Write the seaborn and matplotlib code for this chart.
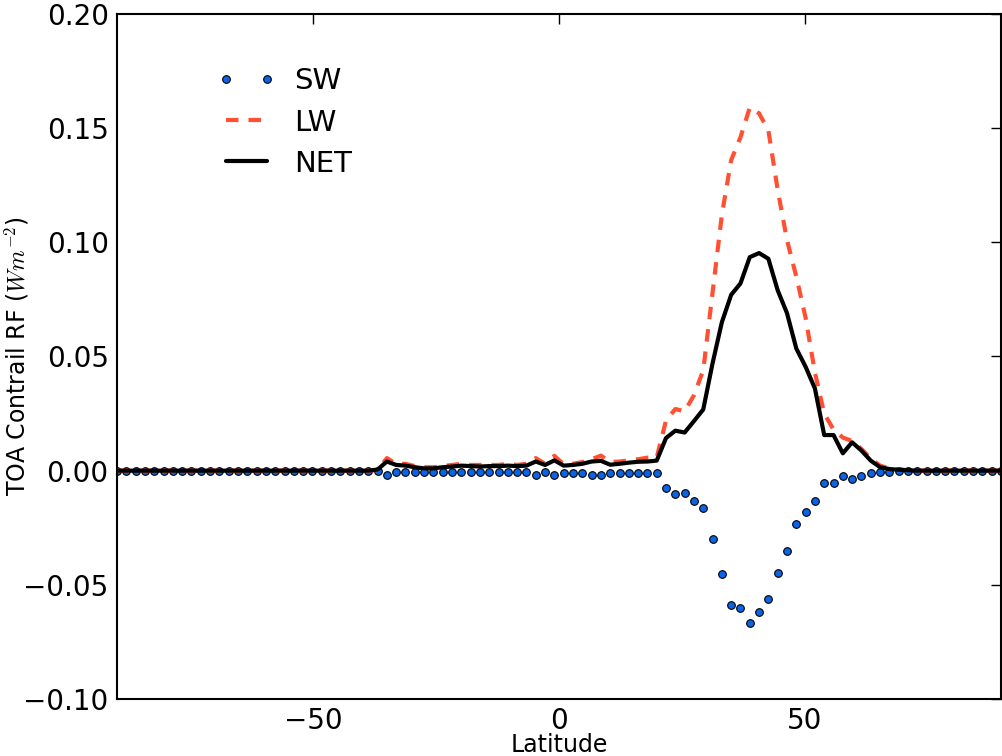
import numpy as np
import pandas as pd
import matplotlib
matplotlib.use("Agg")
import matplotlib.pyplot as plt
import seaborn as sns

# Latitude grid (96 points spanning -90..90)
lat = np.linspace(-90, 90, 96)

sw = [0.0] * 28 + [
    -0.0003, -0.002, -0.0008, -0.0008, -0.0008, -0.0008, -0.0008, -0.0008,
    -0.0008, -0.0008, -0.0008, -0.0008, -0.0008, -0.0008, -0.0008, -0.0008,
    -0.0008, -0.002, -0.0008, -0.002, -0.001, -0.001, -0.001, -0.002,
    -0.002, -0.001, -0.001, -0.001, -0.001, -0.001, -0.001, -0.0076,
    -0.0101, -0.0096, -0.0132, -0.0165, -0.030, -0.0452, -0.0589, -0.0601,
    -0.0668, -0.0618, -0.056, -0.045, -0.035, -0.0232, -0.0183, -0.0133,
    -0.0055, -0.0055, -0.0025, -0.0035, -0.0025, -0.001, -0.0006, -0.0004,
] + [0.0] * 12

lw = [0.0] * 28 + [
    0.0003, 0.0055, 0.003, 0.003, 0.002, 0.0015, 0.0015, 0.002,
    0.0025, 0.003, 0.0025, 0.0025, 0.0025, 0.0025, 0.003, 0.0025,
    0.003, 0.0055, 0.003, 0.0065, 0.0028, 0.003, 0.0038, 0.005,
    0.0066, 0.0038, 0.004, 0.0045, 0.005, 0.0057, 0.0058, 0.022,
    0.027, 0.026, 0.033, 0.044, 0.078, 0.112, 0.136, 0.146,
    0.159, 0.1565, 0.149, 0.123, 0.101, 0.085, 0.067, 0.043,
    0.025, 0.018, 0.0145, 0.013, 0.0095, 0.0053, 0.0022, 0.001,
    0.0005, 0.0002,
] + [0.0] * 10

net = [0.0] * 28 + [
    0.0005, 0.004, 0.0025, 0.0022, 0.0015, 0.001, 0.001, 0.0015,
    0.0018, 0.0022, 0.002, 0.0018, 0.002, 0.002, 0.0022, 0.002,
    0.0022, 0.004, 0.0025, 0.0045, 0.0022, 0.0025, 0.003, 0.004,
    0.0043, 0.0026, 0.003, 0.0035, 0.0039, 0.004, 0.0044, 0.0143,
    0.0175, 0.0167, 0.0217, 0.0268, 0.047, 0.065, 0.077, 0.082,
    0.0935, 0.0953, 0.0928, 0.079, 0.069, 0.0535, 0.0455, 0.036,
    0.0156, 0.0156, 0.0076, 0.0124, 0.0088, 0.0044, 0.0015, 0.0007,
    0.0004, 0.0002,
] + [0.0] * 10

xticks = [-50, 0, 50]
yticks = [-0.10, -0.05, 0.00, 0.05, 0.10, 0.15, 0.20]

df = pd.DataFrame({"lat": lat, "SW": sw, "LW": lw, "NET": net})

sns.set_style("white")
plt.rcParams["font.family"] = ["DejaVu Sans"]
plt.rcParams["mathtext.fontset"] = "cm"
for k in ["text.color", "axes.labelcolor", "xtick.color", "ytick.color"]:
    plt.rcParams[k] = "black"

fig = plt.figure(figsize=(10.03, 7.56), dpi=100)
ax = fig.add_axes([0.1167, 0.0754, 0.8813, 0.9061])

sns.lineplot(data=df, x="lat", y="SW", ax=ax, estimator=None, errorbar=None,
             linestyle="", marker="o", markersize=5.5, color="#0b63e5",
             markeredgecolor="black", markeredgewidth=0.8, label="SW", zorder=2)
sns.lineplot(data=df, x="lat", y="LW", ax=ax, estimator=None, errorbar=None,
             color="#ff5033", linewidth=3, dashes=False, label="LW", zorder=3)
ax.lines[-1].set_dashes([3.0, 2.4])
sns.lineplot(data=df, x="lat", y="NET", ax=ax, estimator=None, errorbar=None,
             color="black", linewidth=3, label="NET", zorder=4)

ax.set_xlim(-90, 90)
ax.set_ylim(-0.1, 0.2)
ax.set_xticks(xticks)
ax.set_yticks(yticks)
ax.set_yticklabels([("%.2f" % v).replace("-", "\u2212") for v in yticks])
ax.set_xticklabels([str(v).replace("-", "\u2212") for v in xticks])
ax.tick_params(direction="in", length=7, width=1, labelsize=20,
               top=True, right=True, pad=6)
for s in ax.spines.values():
    s.set_linewidth(1.5)
    s.set_color("black")

ax.set_xlabel("Latitude", fontsize=17)
ax.xaxis.set_label_coords(0.5, -0.049)
ax.set_ylabel(r"TOA Contrail RF ($Wm^{-2}$)", fontsize=17)
ax.yaxis.set_label_coords(-0.097, 0.5)

ax.legend(loc="upper left", bbox_to_anchor=(0.113, 0.922), frameon=False,
          fontsize=21, numpoints=2, handlelength=2.0, handletextpad=0.65,
          labelspacing=0.45, borderaxespad=0, borderpad=0)

fig.savefig("out.png", dpi=100)
